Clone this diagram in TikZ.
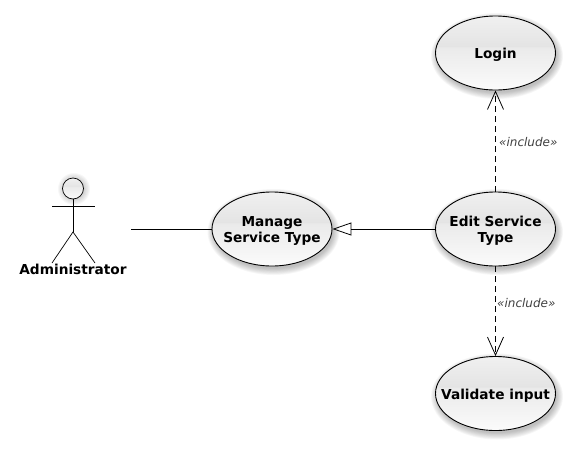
\documentclass[tikz,border=0pt]{standalone}
\usepackage{fontspec}
\setmainfont{DejaVu Sans}
\usetikzlibrary{arrows.meta,shapes.geometric}
\definecolor{glossb}{HTML}{EAEAEA}
\definecolor{glossc}{HTML}{E4E4E4}
\definecolor{glossd}{HTML}{F0F0F0}
\definecolor{glossa}{HTML}{FBFBFB}
\pgfdeclareverticalshading{gloss}{100bp}{color(0bp)=(glossa); color(25bp)=(glossa); color(54bp)=(glossb); color(54.4bp)=(glossc); color(75bp)=(glossd); color(100bp)=(glossd)}
\newcommand{\lowerstrut}{\rule{0pt}{14pt}}
\tikzset{
  usecase/.style={ellipse,draw=black,line width=0.9pt,minimum width=120pt,minimum height=74pt,inner ysep=0pt,inner xsep=-25pt,align=center,font=\bfseries\fontsize{13.7}{16.5}\selectfont,shading=gloss},
  actorline/.style={line width=0.7pt,black},
  assoc/.style={line width=0.9pt,black},
  gen/.style={assoc,-{Triangle[open,length=19pt,width=13pt,line width=0.8pt]}},
  incl/.style={line width=0.9pt,black,dash pattern=on 6pt off 4pt,-{Straight Barb[length=18pt,width=16pt,line width=0.8pt]}},
  stereo/.style={font=\itshape\fontsize{12}{14}\selectfont,text=black!75,inner sep=0pt},
  shadowring/.style={fill=black,fill opacity=0.03,draw=none}
}
\newcommand{\softshadow}[2]{%
  \foreach \g in {0,...,8}{\fill[shadowring] (#1+1.5,#2+3) ellipse ({60+6-0.8*\g} and {37+6-0.8*\g});}
}
\begin{document}
\begin{tikzpicture}[x=1pt,y=-1pt]
\useasboundingbox (0,0) rectangle (571,448);
\softshadow{495.5}{53}
\softshadow{272}{229}
\softshadow{495.5}{229}
\softshadow{495.5}{393.5}
\foreach \g in {0,...,5}{\fill[shadowring] (74,189) circle ({16-\g});}
\node[usecase] (login) at (495.5,53) {\lowerstrut Login};
\node[usecase] (manage) at (272,229) {\lowerstrut Manage\\Service Type};
\node[usecase] (edit) at (495.5,229) {\lowerstrut Edit Service\\Type};
\node[usecase] (validate) at (495.5,393.5) {\lowerstrut Validate input};
% actor
\node[circle,draw=black,line width=0.7pt,minimum size=21pt,inner sep=0pt,shading=gloss] (head) at (73,188.5) {};
\coordinate (shl) at (52,206.5);
\coordinate (shr) at (95,206.5);
\coordinate (hip) at (73,232);
\coordinate (fl) at (52,263);
\coordinate (fr) at (95,263);
\coordinate (free) at (131,229);
\draw[actorline] (shl) -- (shr);
\draw[actorline] (head.south) -- (hip);
\draw[actorline] (fl) -- (hip) -- (fr);
\node[font=\bfseries\fontsize{13.7}{16}\selectfont,inner sep=0pt] (actorlabel) at (73,269) {Administrator};
% connectors
\draw[assoc] (free) -- (manage.west);
\draw[gen] (edit.west) -- (manage.east);
\draw[incl] (edit.north) -- (login.south);
\draw[incl] (edit.south) -- (validate.north);
\node[stereo,anchor=west] (l1) at (499,142.5) {«include»};
\node[stereo,anchor=west] (l2) at (497,303) {«include»};
\end{tikzpicture}
\end{document}
